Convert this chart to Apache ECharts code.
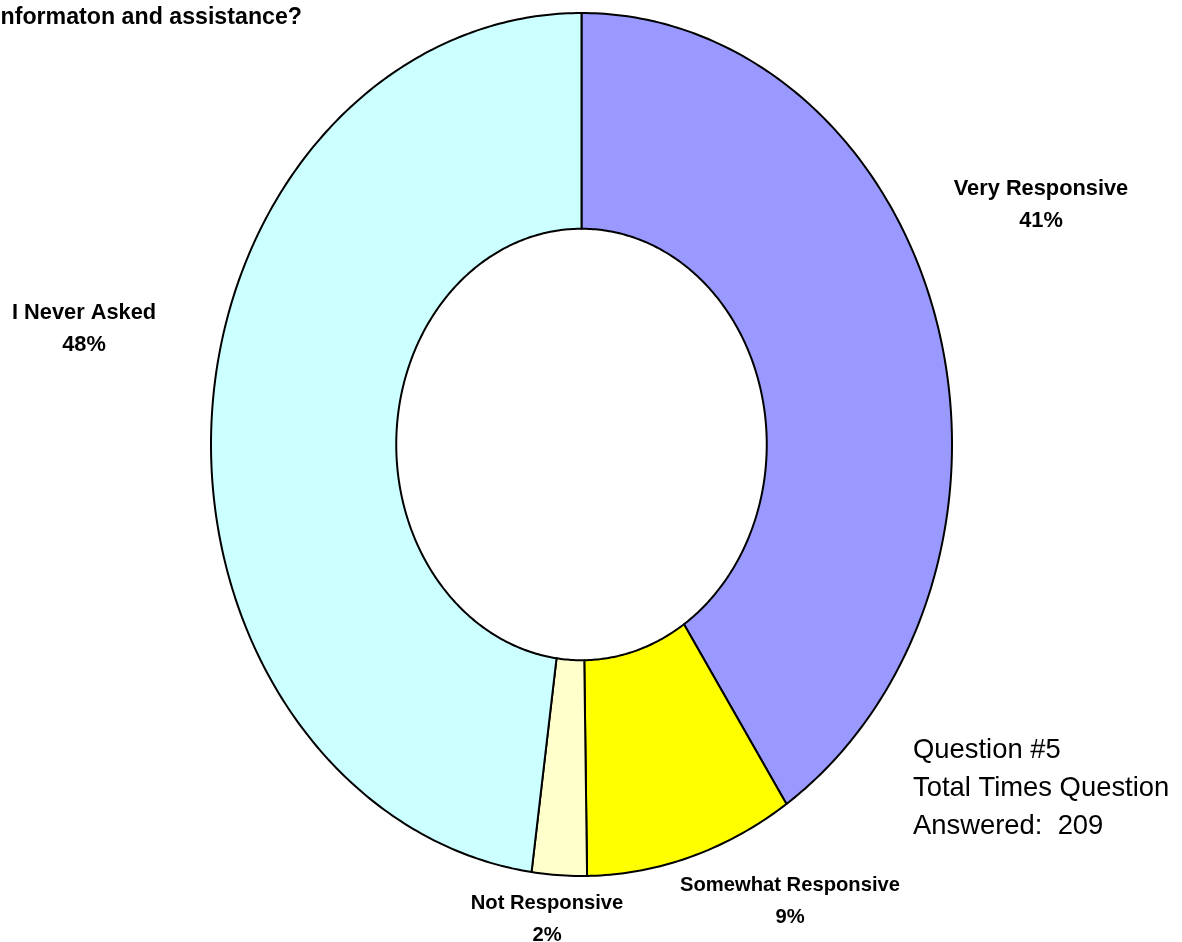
<!DOCTYPE html>
<html>
<head>
<meta charset="utf-8">
<script src="https://cdn.jsdelivr.net/npm/echarts@6/dist/echarts.min.js"></script>
<style>
  html, body { margin: 0; padding: 0; background: #fff; }
  #chart { width: 1182px; height: 942px; }
</style>
</head>
<body>
<div id="chart"></div>
<script>
// Survey responses, question #5 (counts of answers)
const categories = ['Very Responsive', 'Somewhat Responsive', 'Not Responsive', 'I Never Asked'];
const counts = [85, 19, 5, 100];
const colors = ['#9999FF', '#FFFF00', '#FFFFCC', '#CCFFFF'];

const titleText = 'informaton and assistance?';
const noteLines = ['Question #5', 'Total Times Question', 'Answered:  209'];

// Ring geometry (elliptical donut)
const ring = { cx: 581.5, cy: 444.5, rx: 370.5, ry: 431.5, inner: 0.5 };
// Label anchor points (centre of the two-line label) and label font sizes
const labelAnchors = [[1041, 205], [790, 901], [547, 919], [84, 329]];
const labelSizes = [21.8, 20.2, 20.2, 21.8];
const FONT = 'Liberation Sans';

const total = counts.reduce((a, b) => a + b, 0);
const starts = [];
counts.reduce((acc, v, i) => { starts[i] = acc; return acc + v; }, 0);

function ellipsePt(theta, k) {
  return [ring.cx + ring.rx * k * Math.sin(theta), ring.cy - ring.ry * k * Math.cos(theta)];
}

const chart = echarts.init(document.getElementById('chart'), null, { renderer: 'canvas' });

chart.setOption({
  backgroundColor: '#ffffff',
  animation: false,
  series: [{
    type: 'custom',
    coordinateSystem: 'none',
    data: counts.map((v, i) => ({ name: categories[i], value: [v, i] })),
    renderItem: function (params, api) {
      const v = api.value(0);
      const i = api.value(1);
      const a0 = starts[i] / total * Math.PI * 2;
      const a1 = (starts[i] + v) / total * Math.PI * 2;
      const steps = Math.max(8, Math.ceil((a1 - a0) * 80));
      const pts = [];
      for (let s = 0; s <= steps; s++) pts.push(ellipsePt(a0 + (a1 - a0) * s / steps, 1));
      for (let s = steps; s >= 0; s--) pts.push(ellipsePt(a0 + (a1 - a0) * s / steps, ring.inner));
      const pct = Math.round(v / total * 100) + '%';
      const anchor = labelAnchors[i];
      return {
        type: 'group',
        children: [
          {
            type: 'polygon',
            shape: { points: pts },
            style: { fill: colors[i], stroke: '#000', lineWidth: 2, lineJoin: 'round' }
          },
          {
            type: 'text',
            x: anchor[0], y: anchor[1],
            style: {
              text: categories[params.dataIndex] + '\n' + pct,
              align: 'center', verticalAlign: 'middle',
              fill: '#000',
              fontFamily: FONT, fontWeight: 'bold', fontSize: labelSizes[i],
              lineHeight: 32
            }
          }
        ]
      };
    }
  }],
  graphic: [
    {
      type: 'text', right: 1182 - 302, top: 6,
      style: {
        text: titleText, fill: '#000',
        fontFamily: FONT, fontWeight: 'bold', fontSize: 23.2
      }
    },
    {
      type: 'text', left: 913, top: 731,
      style: {
        text: noteLines.join('\n'), fill: '#000',
        fontFamily: FONT, fontSize: 27.4,
        lineHeight: 38
      }
    }
  ]
});
</script>
</body>
</html>
